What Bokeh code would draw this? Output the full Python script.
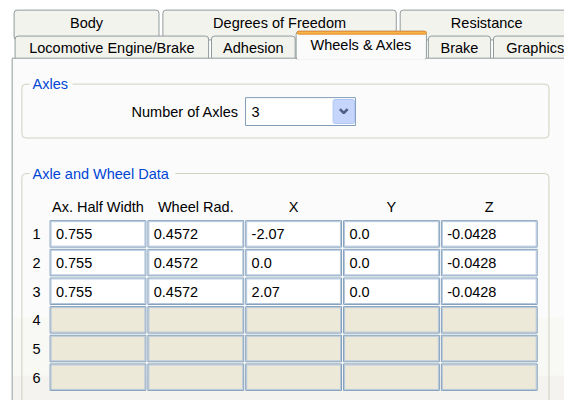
from bokeh.plotting import figure
from bokeh.models import Range1d, ColumnDataSource
from bokeh.embed import file_html
from bokeh.resources import INLINE
from bokeh.core.properties import value

# ---------------- content ----------------
tabs_back = ["Body", "Degrees of Freedom", "Resistance"]
tabs_front = ["Locomotive Engine/Brake", "Adhesion", "Wheels & Axles", "Brake", "Graphics"]
selected_tab = "Wheels & Axles"
group_titles = ["Axles", "Axle and Wheel Data"]
axles_label = "Number of Axles"
number_of_axles = "3"
col_headers = ["Ax. Half Width", "Wheel Rad.", "X", "Y", "Z"]
row_labels = ["1", "2", "3", "4", "5", "6"]
half_width = ["0.755", "0.755", "0.755"]
wheel_rad = ["0.4572", "0.4572", "0.4572"]
x_pos = ["-2.07", "0.0", "2.07"]
y_pos = ["0.0", "0.0", "0.0"]
z_pos = ["-0.0428", "-0.0428", "-0.0428"]

# ---------------- layout (pixels of the dialog) ----------------
back_edges = [(14, 163), (167, 407), (411, 640)]
front_edges = [(15, 214), (217, 303), (304, 438), (440, 504), (507, 660)]
back_y = (10, 37)
front_y = (37, 61)
sel_y = (32, 61)
panel = (12, 700, 60, 460)
grp_axles = (22, 564, 87, 143)
grp_table = (22, 564, 180, 440)
col_left0, col_pitch, col_w = 51, 100.6, 98.5
row_top0, row_pitch, row_h = 229, 29.8, 27.5
header_y = 215

FONT = value("Liberation Sans")
FS = "14.5px"
TAB_BORDER = "#919b9c"
BLUE = "#0046d5"

p = figure(width=564, height=400, x_range=Range1d(0, 580), y_range=Range1d(416, 0),
           output_backend="svg", toolbar_location=None, min_border=0,
           background_fill_color="#ffffff", border_fill_color="#ffffff")
p.axis.visible = False
p.grid.visible = False
p.outline_line_color = None


def txt(x, y, s, align="left", color="#000000", size=FS):
    p.text(x=[x], y=[y], text=[s], text_font=FONT, text_font_size=size,
           text_color=color, text_align=align, text_baseline="middle")


# back row of tabs
p.quad(left=[a for a, b in back_edges], right=[b for a, b in back_edges],
       top=[back_y[0]] * 3, bottom=[back_y[1] + 4] * 3,
       fill_color="#f3f3ee", line_color=TAB_BORDER, line_width=1, border_radius=3)
for (a, b), s in zip(back_edges, tabs_back):
    cx = (a + b) / 2 if b < 600 else 500
    txt(cx, 23.5, s, align="center")

# front row of tabs (unselected)
for (a, b), s in zip(front_edges, tabs_front):
    if s == selected_tab:
        continue
    p.quad(left=[a], right=[b], top=[front_y[0]], bottom=[front_y[1] + 3],
           fill_color="#f3f3ee", line_color=TAB_BORDER, line_width=1, border_radius=3)
    cx = (a + b) / 2 if b < 600 else a + 13
    txt(cx, 49.5, s, align="center" if b < 600 else "left")

# panel
p.quad(left=[panel[0]], right=[panel[1]], top=[panel[2]], bottom=[panel[3]],
       fill_color="#fbfbfc", line_color=TAB_BORDER, line_width=1)
p.quad(left=[panel[0] + 1], right=[panel[1]], top=[330], bottom=[panel[3]],
       fill_color="#f8f8f5", line_color=None)
p.quad(left=[panel[0] + 1], right=[panel[1]], top=[390], bottom=[panel[3]],
       fill_color="#f4f3ef", line_color=None)

# selected tab
for (a, b), s in zip(front_edges, tabs_front):
    if s != selected_tab:
        continue
    p.quad(left=[a], right=[b], top=[sel_y[0]], bottom=[sel_y[1] + 1],
           fill_color="#fbfbfc", line_color=TAB_BORDER, line_width=1, border_radius=3)
    p.quad(left=[a], right=[b + 1], top=[sel_y[1]], bottom=[sel_y[1] + 2],
           fill_color="#fbfbfc", line_color=None)
    p.quad(left=[a + 1], right=[b], top=[sel_y[0]], bottom=[sel_y[0] + 3],
           fill_color="#f7b548", line_color="#e68b2c", line_width=1, border_radius=2)
    txt((a + b) / 2, 46.5, s, align="center")

# group boxes
for (l, r, t, bt), title, tw in zip([grp_axles, grp_table], group_titles, [40, 146]):
    p.quad(left=[l], right=[r], top=[t], bottom=[bt], fill_color=None,
           line_color="#d0d0bf", line_width=1, border_radius=4)
    p.quad(left=[30], right=[30 + tw + 4], top=[t - 4], bottom=[t + 4],
           fill_color="#fbfbfc", line_color=None)
    txt(33, t, title, color=BLUE)

# Number of axles combo
txt(245, 115.5, axles_label, align="right")
p.quad(left=[252], right=[365], top=[101], bottom=[130], fill_color="#ffffff",
       line_color="#7f9db9", line_width=1)
txt(258, 115.5, number_of_axles)
p.quad(left=[342], right=[364], top=[103], bottom=[128], fill_color="#c5d5fc",
       line_color="#b0c6f5", line_width=1, border_radius=2)
p.line(x=[349, 353, 357], y=[113, 117, 113], line_color="#4d6185", line_width=2.5)

# table
cols = [half_width, wheel_rad, x_pos, y_pos, z_pos]
n_cols = len(col_headers)
n_rows = len(row_labels)
lefts, tops, fills, labels_x, labels_y, labels = [], [], [], [], [], []
for r in range(n_rows):
    for c in range(n_cols):
        lx = col_left0 + c * col_pitch
        ty = row_top0 + r * row_pitch
        lefts.append(lx)
        tops.append(ty)
        filled = r < len(cols[c])
        fills.append("#ffffff" if filled else "#ece9d8")
        if filled:
            labels_x.append(lx + 6)
            labels_y.append(ty + row_h / 2 + 0.5)
            labels.append(cols[c][r])
src = ColumnDataSource(dict(left=lefts, right=[v + col_w for v in lefts], top=tops,
                            bottom=[v + row_h for v in tops], fill=fills,
                            il=[v + 1 for v in lefts], ir=[v + col_w - 1 for v in lefts],
                            it=[v + 1 for v in tops], ib=[v + row_h - 1 for v in tops]))
p.quad(left="left", right="right", top="top", bottom="bottom", fill_color="fill",
       line_color="#7f9db9", line_width=1, source=src)
p.quad(left="il", right="ir", top="it", bottom="ib", fill_color=None,
       line_color="#b4c6dc", line_width=1, source=src)
p.text(x=labels_x, y=labels_y, text=labels, text_font=FONT, text_font_size=FS,
       text_color="#000000", text_align="left", text_baseline="middle")

p.text(x=[col_left0 + c * col_pitch + col_w / 2 for c in range(n_cols)],
       y=[header_y] * n_cols, text=col_headers, text_font=FONT, text_font_size=FS,
       text_color="#000000", text_align="center", text_baseline="middle")
p.text(x=[37] * n_rows, y=[row_top0 + r * row_pitch + row_h / 2 + 0.5 for r in range(n_rows)],
       text=row_labels, text_font=FONT, text_font_size=FS,
       text_color="#000000", text_align="center", text_baseline="middle")

open("out.html", "w").write(file_html(p, INLINE))
